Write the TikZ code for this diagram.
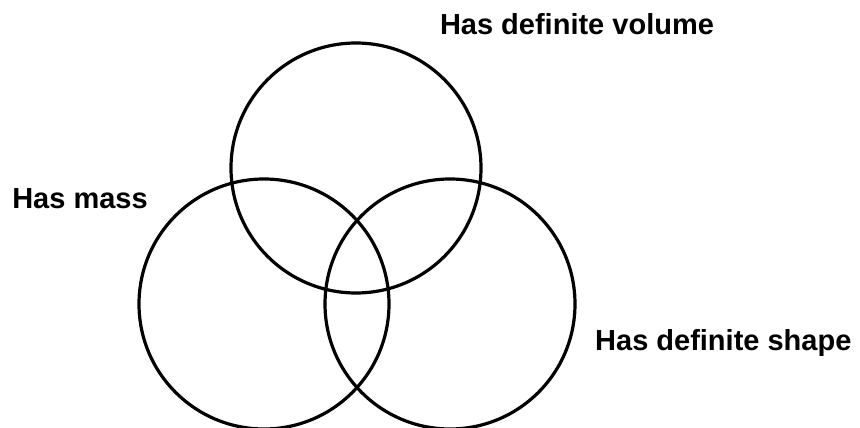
\documentclass[tikz,border=0pt]{standalone}
\usepackage{fontspec}
\setmainfont{Liberation Sans}

\begin{document}
\begin{tikzpicture}[
		x=1pt, y=-1pt,
		ring/.style={
			circle,
			draw=black,
			line width=3.2pt,
			minimum size=250pt,
			inner sep=0pt
		},
		tag/.style={
			font=\fontsize{29}{32}\selectfont\bfseries,
			inner sep=0pt
		}
		]
		
		% Frame of the picture
		\useasboundingbox (0,0) rectangle (860,428);
		
		% The three sets
		\node (volume) [ring] at (356,168) {};
		\node (mass) [ring] at (264,304) {};
		\node (shape) [ring] at (450,304) {};
		
		% Set labels
		\node (volumelabel) [tag] at (577,24) {Has definite volume};
		\node (masslabel) [tag] at (80,199) {Has mass};
		\node (shapelabel) [tag, anchor=base west] at (595,350) {Has definite shape};
		
	\end{tikzpicture}
\end{document}
